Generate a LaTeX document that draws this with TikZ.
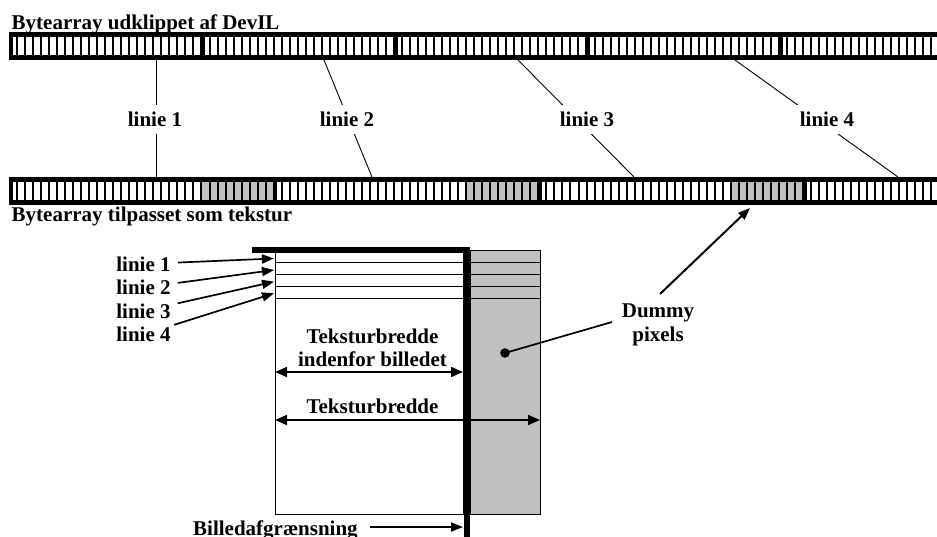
\documentclass[tikz,border=0pt]{standalone}
\usepackage{fontspec}
\setmainfont{Liberation Serif}
\usetikzlibrary{arrows.meta,calc}
\definecolor{dummygray}{HTML}{C0C0C0}
\tikzset{
  lbl/.style={font=\fontsize{21}{23.7}\selectfont\bfseries, inner sep=0pt},
  midlbl/.style={lbl, fill=white, inner xsep=3pt, inner ysep=6.8pt},
  conn/.style={line width=0.9pt},
  thin/.style={line width=0.9pt},
  arr/.style={line width=1.7pt, -{Triangle[length=12pt,width=9pt]}},
  darr/.style={line width=1.7pt, {Triangle[length=12pt,width=10pt]}-{Triangle[length=12pt,width=10pt]}},
}
\begin{document}
\begin{tikzpicture}[x=1pt,y=-1pt]
\useasboundingbox (0,0) rectangle (937,537);
\begin{scope}
\clip (0,0) rectangle (937,537);
% ---- top bar: image lines as cut out by DevIL
\fill[black] (9,32) rectangle (950,60);
\foreach \s in {0,...,4}{
  \foreach \c in {0,...,23}{
    \pgfmathsetmacro{\xa}{9+\s*192.5+\c*8.02+ifthenelse(\c==0,3.5,1)}
    \pgfmathsetmacro{\xb}{9+\s*192.5+\c*8.02+7.02}
    \fill[white] (\xa,37) rectangle (\xb,55);
  }
}
% ---- bottom bar: lines padded to texture width
\fill[black] (9,177) rectangle (950,205);
\foreach \s in {0,...,3}{
  \foreach \c in {0,...,32}{
    \pgfmathsetmacro{\xa}{9+\s*264.7+\c*8.02+ifthenelse(\c==0,3.5,1)}
    \pgfmathsetmacro{\xb}{9+\s*264.7+\c*8.02+7.02}
    \ifnum\c<24 \def\cc{white}\else\def\cc{dummygray}\fi
    \fill[\cc] (\xa,182) rectangle (\xb,200);
  }
}
\end{scope}

% titles
\node[lbl, anchor=base west] (ttop) at (11.5,29.3) {Bytearray udklippet af DevIL};
\node[lbl, anchor=base west] (tbot) at (11.5,222) {Bytearray tilpasset som tekstur};

% connectors between bars
\coordinate (a1) at (156,60);  \coordinate (b1) at (156,177);
\coordinate (a2) at (324,60);  \coordinate (b2) at (372,177);
\coordinate (a3) at (518,60);  \coordinate (b3) at (634,177);
\coordinate (a4) at (735,60);  \coordinate (b4) at (898,177);
\foreach \i in {1,...,4}{\draw[conn] (a\i) -- (b\i);}
\node[midlbl] (m1) at (155,119.5) {linie 1};
\node[midlbl] (m2) at (347,119.5) {linie 2};
\node[midlbl] (m3) at (587,119.5) {linie 3};
\node[midlbl] (m4) at (827,119.5) {linie 4};

% ---- lower diagram
\fill[dummygray] (470,250) rectangle (540,514);
\draw[thin] (470,250) rectangle (540,514);
\draw[thin] (275,250) rectangle (463,514);
\foreach \y in {262.7,274.3,286.7,298.3}{\draw[thin] (275,\y) -- (540,\y);}
\draw[line width=6.5pt] (252,250) -- (467,250) -- (467,545);

% line labels with arrows
\node[lbl] (l1) at (143.5,264) {linie 1};
\node[lbl] (l2) at (143.5,287.5) {linie 2};
\node[lbl] (l3) at (143.5,311) {linie 3};
\node[lbl] (l4) at (143.5,334.5) {linie 4};
\coordinate (r1) at (274,258.5);
\coordinate (r2) at (274,270);
\coordinate (r3) at (274,281.7);
\coordinate (r4) at (274,293.3);
\foreach \i in {1,...,4}{\draw[arr, shorten <=7pt] (l\i) -- (r\i);}

% widths
\node[lbl, align=center] (w1) at (372.5,347.7) {Teksturbredde\\indenfor billedet};
\coordinate (w1l) at (275,372); \coordinate (w1r) at (463,372);
\draw[darr] (w1l) -- (w1r);
\node[lbl, anchor=base] (w2) at (372.5,413) {Teksturbredde};
\coordinate (w2l) at (275,420); \coordinate (w2r) at (540,420);
\draw[darr] (w2l) -- (w2r);

% dummy pixels
\fill (505,353) circle (4.8);
\coordinate (dot) at (505,353);
\node[lbl, align=center] (dp) at (658,325) {Dummy\\pixels};
\coordinate (dpl) at (612,322);
\draw[line width=1.7pt] (dot) -- (dpl);
\coordinate (dps) at (660,294);
\coordinate (dpt) at (750,208);
\draw[arr, line width=2pt] (dps) -- (dpt);

% image boundary
\node[lbl, anchor=base west] (bg) at (193,535.5) {Billedafgrænsning};
\coordinate (bgtip) at (463,527);
\draw[arr] ($(bg.east |- bgtip)+(12,0)$) -- (bgtip);
\end{tikzpicture}
\end{document}
